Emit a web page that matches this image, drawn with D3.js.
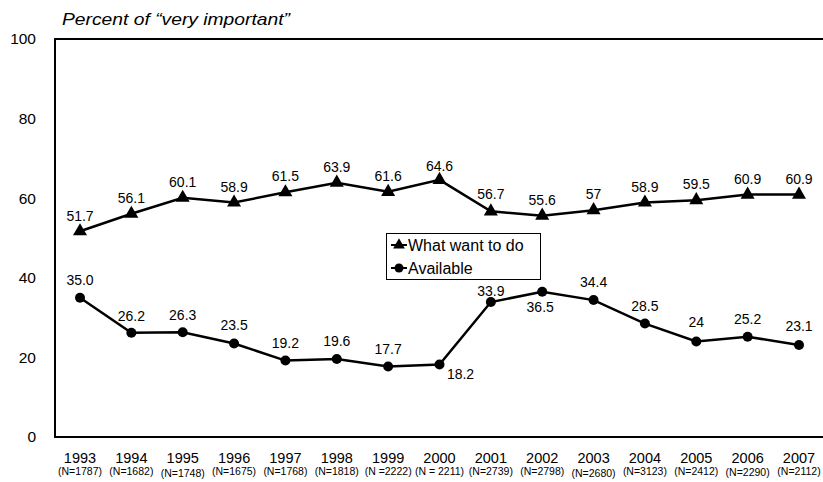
<!DOCTYPE html>
<html><head><meta charset="utf-8">
<script src="https://cdn.jsdelivr.net/npm/d3@7"></script>
<style>body{margin:0;background:#fff}svg{display:block;font-family:Arial,"Liberation Sans",sans-serif}</style>
</head><body><svg id="c" width="823" height="482"></svg>
<script>
const years = ["1993","1994","1995","1996","1997","1998","1999","2000","2001","2002","2003","2004","2005","2006","2007"];
const nLabels = ["(N=1787)","(N=1682)","(N=1748)","(N=1675)","(N=1768)","(N=1818)","(N =2222)","(N = 2211)","(N=2739)","(N=2798)","(N=2680)","(N=3123)","(N=2412)","(N=2290)","(N=2112)"];
const wantValues = [51.7,56.1,60.1,58.9,61.5,63.9,61.6,64.6,56.7,55.6,57,58.9,59.5,60.9,60.9];
const wantLabels = ["51.7","56.1","60.1","58.9","61.5","63.9","61.6","64.6","56.7","55.6","57","58.9","59.5","60.9","60.9"];
const availValues = [35.0,26.2,26.3,23.5,19.2,19.6,17.7,18.2,33.9,36.5,34.4,28.5,24,25.2,23.1];
const availLabels = ["35.0","26.2","26.3","23.5","19.2","19.6","17.7","18.2","33.9","36.5","34.4","28.5","24","25.2","23.1"];
const yTicks = [0,20,40,60,80,100];

const svg = d3.select("#c");
const x = d3.scalePoint().domain(years).range([80,799]);
const y = d3.scaleLinear().domain([0,100]).range([437,39]);

// title
svg.append("text").attr("x",62).attr("y",25).attr("font-size",17).attr("font-style","italic")
  .attr("textLength",228).attr("lengthAdjust","spacingAndGlyphs").text("Percent of \u201cvery important\u201d");

// frame
svg.append("path").attr("d",`M823,${y(100)}H55V${y(0)}H823`).attr("fill","none").attr("stroke","#000").attr("stroke-width",2);

// y ticks
svg.selectAll(".yt").data(yTicks).enter().append("text")
  .attr("x",36).attr("y",d=>y(d)).attr("dy","0.35em").attr("text-anchor","end").attr("font-size",15.5).text(d=>d);

// x labels
svg.selectAll(".xt").data(years).enter().append("text")
  .attr("x",d=>x(d)).attr("y",463).attr("text-anchor","middle").attr("font-size",14.5).text(d=>d);
const nOff = [0,0,2,0,0,0,0,0,0,0,2,0,0,1,0];
svg.selectAll(".xn").data(nLabels).enter().append("text")
  .attr("x",(d,i)=>x(years[i])).attr("y",(d,i)=>475+nOff[i]).attr("text-anchor","middle").attr("font-size",10.5).text(d=>d);

const line = d3.line().x((d,i)=>x(years[i])).y(d=>y(d));
svg.append("path").datum(wantValues).attr("d",line).attr("fill","none").attr("stroke","#000").attr("stroke-width",2.5);
svg.append("path").datum(availValues).attr("d",line).attr("fill","none").attr("stroke","#000").attr("stroke-width",2.5);

const tri = d3.symbol().type(d3.symbolTriangle).size(85);
svg.selectAll(".tri").data(wantValues).enter().append("path")
  .attr("d",tri).attr("transform",(d,i)=>`translate(${x(years[i])},${y(d)})`).attr("fill","#000");
svg.selectAll(".cir").data(availValues).enter().append("circle")
  .attr("cx",(d,i)=>x(years[i])).attr("cy",d=>y(d)).attr("r",5).attr("fill","#000");

// value labels
const wDy = [-10,-11,-11,-11,-11,-11,-11,-9,-12,-11,-11,-11,-11,-11,-11];
svg.selectAll(".wl").data(wantLabels).enter().append("text")
  .attr("x",(d,i)=>x(years[i])).attr("y",(d,i)=>y(wantValues[i])+wDy[i]).attr("text-anchor","middle").attr("font-size",14).text(d=>d);
const aDx = [0,0,0,0,0,0,0,21,0,-2,0,0,0,0,0];
const aDy = [-13,-12,-12,-13,-13,-13,-13,14,-6,20,-13,-13,-14,-13,-14];
svg.selectAll(".al").data(availLabels).enter().append("text")
  .attr("x",(d,i)=>x(years[i])+aDx[i]).attr("y",(d,i)=>y(availValues[i])+aDy[i]).attr("text-anchor","middle").attr("font-size",14).text(d=>d);

// legend
const lg = svg.append("g");
lg.append("rect").attr("x",386.5).attr("y",233.5).attr("width",154).attr("height",46).attr("fill","#fff").attr("stroke","#000").attr("stroke-width",1);
lg.append("line").attr("x1",391).attr("x2",407).attr("y1",245).attr("y2",245).attr("stroke","#000").attr("stroke-width",2);
lg.append("path").attr("d",d3.symbol().type(d3.symbolTriangle).size(60)).attr("transform","translate(399,245)").attr("fill","#000");
lg.append("text").attr("x",408).attr("y",245).attr("dy","0.36em").attr("font-size",16).text("What want to do");
lg.append("line").attr("x1",391).attr("x2",407).attr("y1",268).attr("y2",268).attr("stroke","#000").attr("stroke-width",2);
lg.append("circle").attr("cx",399).attr("cy",268).attr("r",4.5).attr("fill","#000");
lg.append("text").attr("x",408).attr("y",268).attr("dy","0.36em").attr("font-size",16).text("Available");
</script></body></html>
